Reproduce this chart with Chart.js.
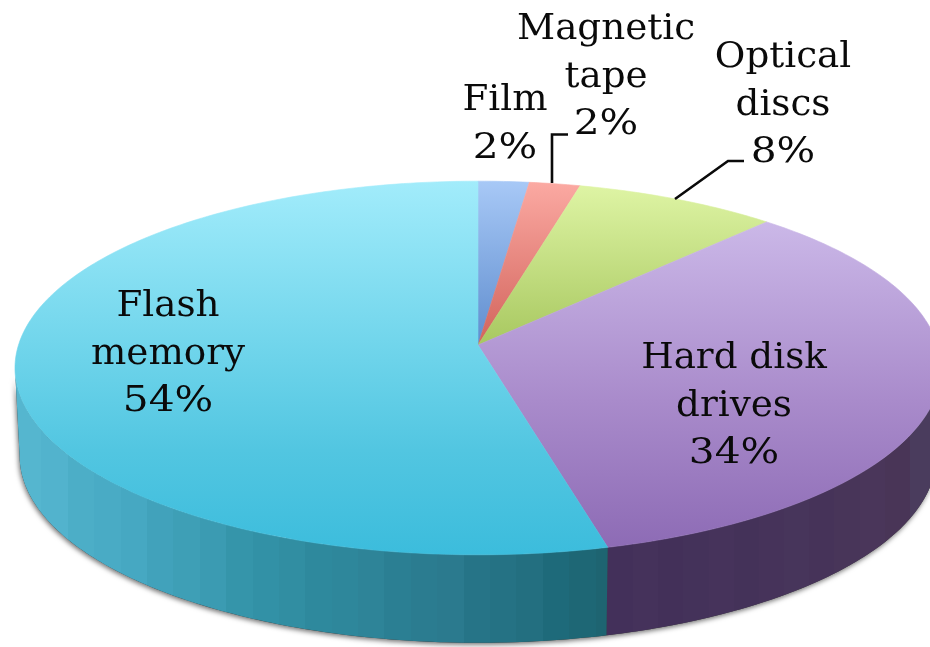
<!DOCTYPE html>
<html>
<head>
<meta charset="utf-8">
<title>Data storage by medium</title>
<script src="https://cdn.jsdelivr.net/npm/chart.js@4/dist/chart.umd.min.js"></script>
<style>
  html, body { margin: 0; padding: 0; background: #fff; }
  #wrap { width: 930px; height: 647px; overflow: hidden; }
</style>
</head>
<body>
<div id="wrap"><canvas id="pie" width="930" height="647"></canvas></div>
<script>
// Storage media and their share of the total, clockwise from twelve o'clock.
const categories = ['Film', 'Magnetic tape', 'Optical discs', 'Hard disk drives', 'Flash memory'];
const shares = [2, 2, 8, 34, 54];

// How each category name wraps in its label.
const labelLines = [['Film'], ['Magnetic', 'tape'], ['Optical', 'discs'], ['Hard disk', 'drives'], ['Flash', 'memory']];

// Label anchors: centre x and first baseline y.
const labelAnchors = [[505, 110], [606, 39], [783, 67], [734, 368], [168, 316]];
const lineGap = 47.5;

// Callout lines for the labels that sit outside their slices.
const leaders = [
  [[552, 183], [552, 134.5], [568, 134.5]],
  [[675, 199], [728, 161], [744, 161]]
];

// Vertical colour ramps of the top face, [y, colour].
const faceRamps = [
  [[182, '#a7c8f6'], [345, '#5f8dce']],
  [[183, '#fba9a2'], [345, '#d2635b']],
  [[186, '#def4a4'], [345, '#a8c860']],
  [[222, '#cbb8e8'], [400, '#a98bcb'], [548, '#8d6bb5']],
  [[181, '#a2ecfb'], [360, '#6cd3ea'], [450, '#52c6e1'], [557, '#3bbcdc']]
];

// Horizontal colour ramps of the side wall, [x, colour].
const wallRamps = [
  null,
  null,
  null,
  [[608, '#43305a'], [800, '#46345a'], [900, '#4a3658'], [935, '#4a4060']],
  [[15, '#57b8d1'], [130, '#46a8c2'], [280, '#308fa3'], [450, '#2a798d'], [560, '#1f6a7a'], [622, '#1d616d']]
];

// Tilted-disc projection of the pie.
const disc = { rx: 459.5, ry: 184, tilt: 0.123, depth: 88, baseScale: 0.99 };
const bandWidth = 27;

function project(arc, angle, lower) {
  const u = Math.cos(angle), v = Math.sin(angle);
  const w = 1 - disc.tilt * v;
  const s = lower ? disc.baseScale : 1;
  return [arc.x + s * disc.rx * u / w, arc.y + disc.ry * v / w + (lower ? disc.depth : 0)];
}

function hexToRgb(h) {
  return [1, 3, 5].map(i => parseInt(h.slice(i, i + 2), 16));
}

function rampColour(ramp, pos, shade) {
  let a = ramp[0], b = ramp[ramp.length - 1];
  for (let i = 0; i < ramp.length - 1; i++) {
    if (pos >= ramp[i][0] && pos <= ramp[i + 1][0]) { a = ramp[i]; b = ramp[i + 1]; break; }
  }
  const t = Math.max(0, Math.min(1, (pos - a[0]) / ((b[0] - a[0]) || 1)));
  const ca = hexToRgb(a[1]), cb = hexToRgb(b[1]);
  const c = ca.map((x, i) => Math.round(x + (cb[i] - x) * t + shade));
  return 'rgb(' + c.join(',') + ')';
}

function wallPath(ctx, arc, from, to) {
  ctx.beginPath();
  const steps = 120;
  for (let i = 0; i <= steps; i++) {
    const p = project(arc, from + (to - from) * i / steps, false);
    i ? ctx.lineTo(p[0], p[1]) : ctx.moveTo(p[0], p[1]);
  }
  for (let i = steps; i >= 0; i--) {
    const p = project(arc, from + (to - from) * i / steps, true);
    ctx.lineTo(p[0], p[1]);
  }
  ctx.closePath();
}

// Side wall shaded in narrow vertical bands.
function bandedGradient(ctx, ramp) {
  const x0 = ramp[0][0], x1 = ramp[ramp.length - 1][0];
  const g = ctx.createLinearGradient(x0, 0, x1, 0);
  const n = Math.ceil((x1 - x0) / bandWidth);
  for (let i = 0; i < n; i++) {
    const mid = x0 + (i + 0.5) * (x1 - x0) / n;
    const col = rampColour(ramp, mid, [0, 1, -1][i % 3]);
    g.addColorStop(i / n, col);
    g.addColorStop((i + 1) / n, col);
  }
  return g;
}

const tiltedPie = {
  id: 'tiltedPie',
  beforeDatasetsDraw(chart) {
    const ctx = chart.ctx;
    const arcs = chart.getDatasetMeta(0).data;
    const first = arcs[0];
    // The wall runs between the points where the projected disc is widest.
    const wallStart = disc.tilt, wallEnd = Math.PI - disc.tilt;

    // Soft ground shadow under the whole wall.
    ctx.save();
    ctx.shadowColor = 'rgba(0,0,0,0.55)';
    ctx.shadowBlur = 5;
    ctx.shadowOffsetX = -1;
    ctx.shadowOffsetY = 2;
    ctx.fillStyle = '#3a3a3a';
    wallPath(ctx, first, wallStart, wallEnd);
    ctx.fill();
    ctx.restore();

    // Side wall of every slice that faces the viewer.
    arcs.forEach((arc, i) => {
      if (!wallRamps[i]) return;
      const from = Math.max(arc.startAngle, wallStart);
      const to = Math.min(arc.endAngle, wallEnd);
      if (to <= from) return;
      ctx.fillStyle = bandedGradient(ctx, wallRamps[i]);
      wallPath(ctx, arc, from, to);
      ctx.fill();
    });

    // Top face, one slice at a time.
    arcs.forEach((arc, i) => {
      const ramp = faceRamps[i];
      const g = ctx.createLinearGradient(0, ramp[0][0], 0, ramp[ramp.length - 1][0]);
      const span = ramp[ramp.length - 1][0] - ramp[0][0];
      ramp.forEach(stop => g.addColorStop((stop[0] - ramp[0][0]) / span, stop[1]));
      ctx.fillStyle = g;
      ctx.strokeStyle = g;
      ctx.lineWidth = 0.6;
      ctx.beginPath();
      ctx.moveTo(arc.x, arc.y);
      const steps = Math.max(6, Math.ceil((arc.endAngle - arc.startAngle) * 60));
      for (let k = 0; k <= steps; k++) {
        const p = project(arc, arc.startAngle + (arc.endAngle - arc.startAngle) * k / steps, false);
        ctx.lineTo(p[0], p[1]);
      }
      ctx.closePath();
      ctx.fill();
      ctx.stroke();
    });
    return false;
  },
  // Runs after the pie: the flat arcs are replaced above, so labels go on last.
  afterDraw(chart) {
    const ctx = chart.ctx;
    ctx.save();
    ctx.strokeStyle = '#0a0a0a';
    ctx.lineWidth = 2.6;
    ctx.lineJoin = 'miter';
    leaders.forEach(pts => {
      ctx.beginPath();
      pts.forEach((p, i) => i ? ctx.lineTo(p[0], p[1]) : ctx.moveTo(p[0], p[1]));
      ctx.stroke();
    });
    ctx.fillStyle = '#0a0a0a';
    ctx.font = '34.5px "DejaVu Serif"';
    ctx.textAlign = 'center';
    ctx.textBaseline = 'alphabetic';
    categories.forEach((name, i) => {
      const words = labelLines[i];
      words.concat(shares[i] + '%').forEach((line, k) => {
        ctx.save();
        ctx.translate(labelAnchors[i][0], labelAnchors[i][1] + k * lineGap);
        // Percentages run a little wider than the names.
        ctx.scale(k < words.length ? 1.08 : 1.18, 1);
        ctx.fillText(line, 0, 0);
        ctx.restore();
      });
    });
    ctx.restore();
  }
};

new Chart(document.getElementById('pie'), {
  type: 'pie',
  data: {
    labels: categories,
    datasets: [{ data: shares, borderWidth: 0 }]
  },
  options: {
    responsive: false,
    animation: false,
    layout: { padding: { left: 26, top: 43, right: 0, bottom: 0 } },
    plugins: { legend: { display: false }, tooltip: { enabled: false } }
  },
  plugins: [tiltedPie]
});
</script>
</body>
</html>
